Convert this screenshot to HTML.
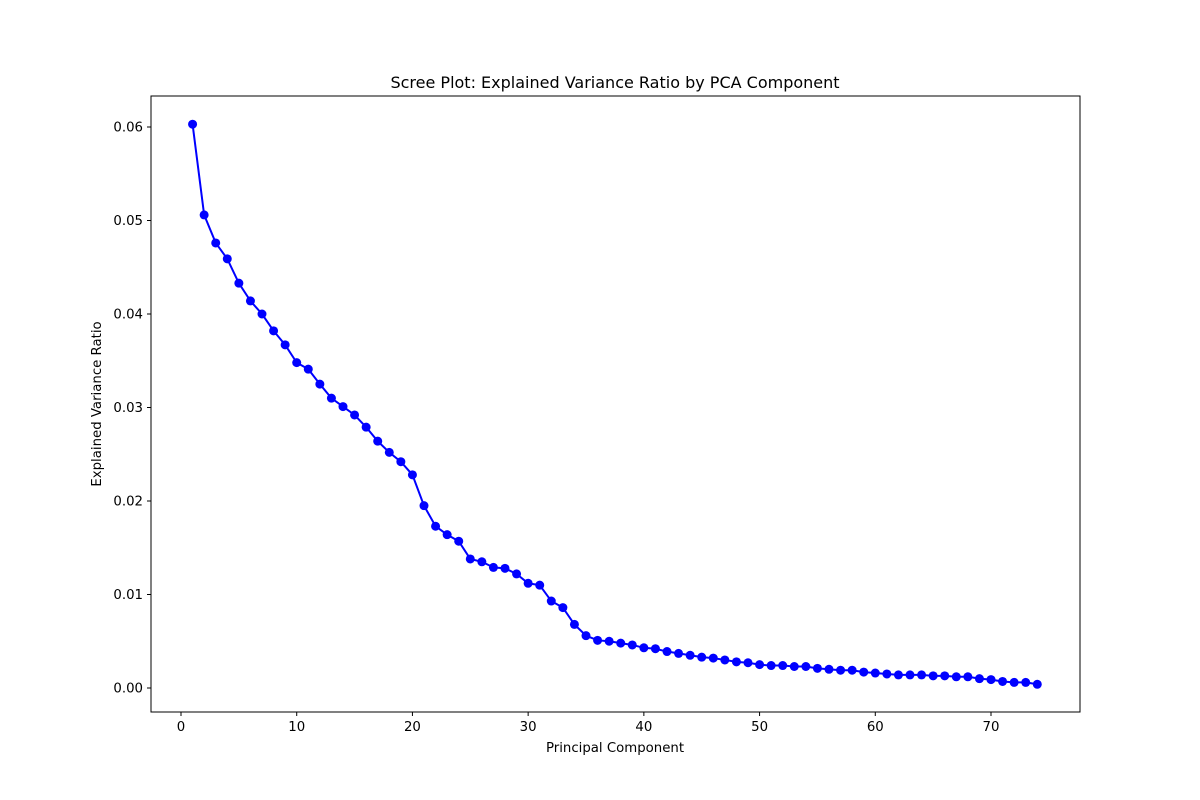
<!DOCTYPE html>
<html><head><meta charset="utf-8"><style>
html,body{margin:0;padding:0;background:#fff;}
svg{display:block;font-family:"DejaVu Sans","Liberation Sans",sans-serif;}
</style></head><body>
<svg id="chart" width="1200" height="800" xmlns="http://www.w3.org/2000/svg">
<rect x="0" y="0" width="1200" height="800" fill="#fff"/>
<text x="615" y="88" text-anchor="middle" font-size="16">Scree Plot: Explained Variance Ratio by PCA Component</text>
<text x="615" y="752" text-anchor="middle" font-size="13.3">Principal Component</text>
<text transform="translate(101,404) rotate(-90)" text-anchor="middle" font-size="13.3">Explained Variance Ratio</text>
<g id="xticks"></g>
<g id="yticks"></g>
<g id="series"></g>
<rect x="151" y="96" width="929" height="616" fill="none" stroke="#000" stroke-width="1"/>
</svg>
<script>
const components = Array.from({length:74},(_,i)=>i+1);
const varianceRatio = [0.0603,0.0506,0.0476,0.0459,0.0433,0.0414,0.0400,0.0382,0.0367,0.0348,
0.0341,0.0325,0.0310,0.0301,0.0292,0.0279,0.0264,0.0252,0.0242,0.0228,
0.0195,0.0173,0.0164,0.0157,0.0138,0.0135,0.0129,0.0128,0.0122,0.0112,
0.0110,0.0093,0.0086,0.0068,0.0056,0.0051,0.0050,0.0048,0.0046,0.0043,
0.0042,0.0039,0.0037,0.0035,0.0033,0.0032,0.0030,0.0028,0.0027,0.0025,
0.0024,0.0024,0.0023,0.0023,0.0021,0.0020,0.0019,0.0019,0.0017,0.0016,
0.0015,0.0014,0.0014,0.0014,0.0013,0.0013,0.0012,0.0012,0.0010,0.0009,
0.0007,0.0006,0.0006,0.0004];
const xTickValues = [0,10,20,30,40,50,60,70];
const yTickValues = [0,0.01,0.02,0.03,0.04,0.05,0.06];
const yTickLabels = ["0.00","0.01","0.02","0.03","0.04","0.05","0.06"];

const NS="http://www.w3.org/2000/svg";
function xs(v){return 181+v*(810/70);}
function ys(v){return 688-v*(561/0.06);}
function mk(t,a,p){const e=document.createElementNS(NS,t);for(const k in a)e.setAttribute(k,a[k]);p.appendChild(e);return e;}

const gx=document.getElementById('xticks');
xTickValues.forEach(v=>{
  const l=mk('line',{x1:xs(v),x2:xs(v),y1:712,y2:716,stroke:'#000'},gx);
  
  
  const t=mk('text',{x:xs(v),y:731,'text-anchor':'middle','font-size':13.3},gx);
  t.textContent=v;
  
  
});
const gy=document.getElementById('yticks');
yTickValues.forEach((v,i)=>{
  const l=mk('line',{x1:147,x2:151,y1:ys(v),y2:ys(v),stroke:'#000'},gy);
  
  
  const t=mk('text',{x:143,y:ys(v)+4.5,'text-anchor':'end','font-size':13.3},gy);
  t.textContent=yTickLabels[i];
  
  
});
const gs=document.getElementById('series');
const pts=components.map((c,i)=>xs(c)+','+ys(varianceRatio[i])).join(' ');
const pl=mk('polyline',{points:pts,fill:'none',stroke:'#0000ff','stroke-width':2},gs);


components.forEach((c,i)=>{
  const p=mk('circle',{cx:xs(c),cy:ys(varianceRatio[i]),r:4.5,fill:'#0000ff'},gs);
  
  
});
</script>
</body></html>
